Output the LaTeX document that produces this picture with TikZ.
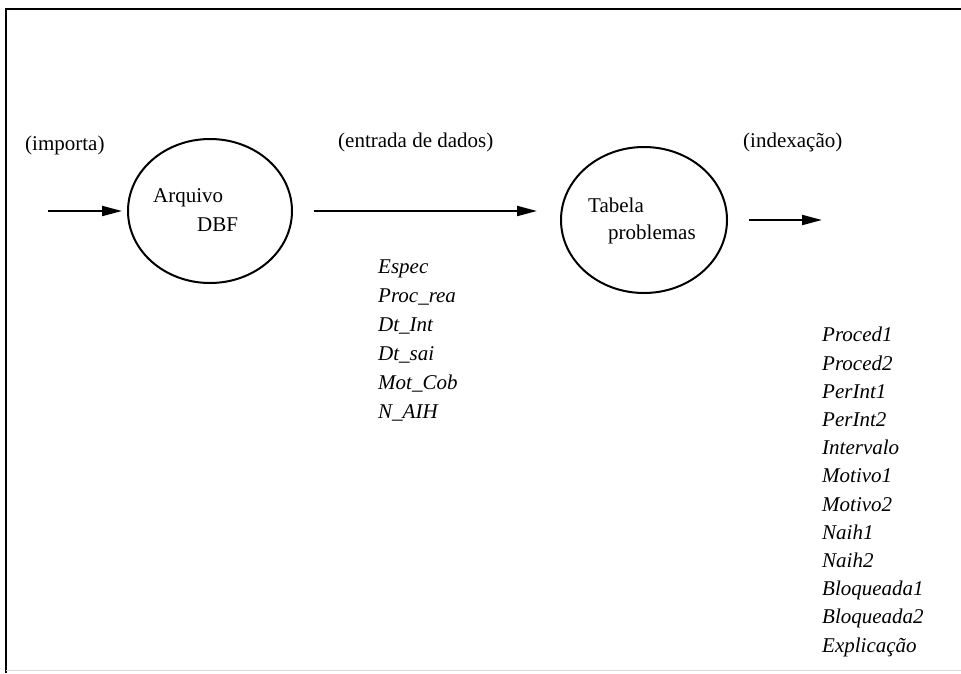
\documentclass[tikz,border=0pt]{standalone}
\usepackage{fontspec}
\setmainfont{Liberation Serif}
\usetikzlibrary{arrows.meta,shapes.geometric}
\begin{document}
\begin{tikzpicture}[x=1pt,y=-1pt,
  txt/.style={inner sep=0pt,anchor=base west,font=\fontsize{21}{25}\selectfont},
  fieldlist/.style={inner sep=0pt,anchor=base west,align=left},
  proc/.style={draw,line width=2pt,ellipse,inner sep=0pt},
  flow/.style={line width=2pt,-{Triangle[length=20pt,width=10pt]}}]
\useasboundingbox (0,0) rectangle (961,673);
% frame
\draw[line width=2.6pt] (6,673) -- (6,9) -- (961,9);
\draw[line width=1pt,black!15] (6,670) -- (961,670);

% processes
\node[proc,minimum width=164pt,minimum height=144pt] (dbf) at (210,211) {};
\node[proc,minimum width=166pt,minimum height=146pt] (tab) at (644,220) {};
\node[txt] (dbf1) at (153,202) {Arquivo};
\node[txt] (dbf2) at (197,231) {DBF};
\node[txt] (tab1) at (588,212) {Tabela};
\node[txt] (tab2) at (608,239) {problemas};

% stage labels
\node[txt] (imp) at (25,150) {(importa)};
\node[txt] (ent) at (338,147) {(entrada de dados)};
\node[txt] (idx) at (743,147) {(indexação)};

% flows
\coordinate (src) at (48,211);
\coordinate (dst) at (822,220);
\draw[flow] (src) -- (dbf.west -| 122,211);
\draw[flow,shorten <=21pt,shorten >=23pt] (dbf.east) -- (dbf.east -| tab.west);
\draw[flow,shorten <=21pt] (tab.east) -- (dst);

% field lists (base anchor sits on the last line)
\node[fieldlist,font=\fontsize{21}{29}\selectfont\itshape] (f1) at (378,418)
  {Espec\\Proc\_rea\\Dt\_Int\\Dt\_sai\\Mot\_Cob\\N\_AIH};
\node[fieldlist,font=\fontsize{21}{28.2}\selectfont\itshape] (f2) at (822,652)
  {Proced1\\Proced2\\PerInt1\\PerInt2\\Intervalo\\Motivo1\\Motivo2\\Naih1\\Naih2\\Bloqueada1\\Bloqueada2\\Explicação};
\end{tikzpicture}
\end{document}
